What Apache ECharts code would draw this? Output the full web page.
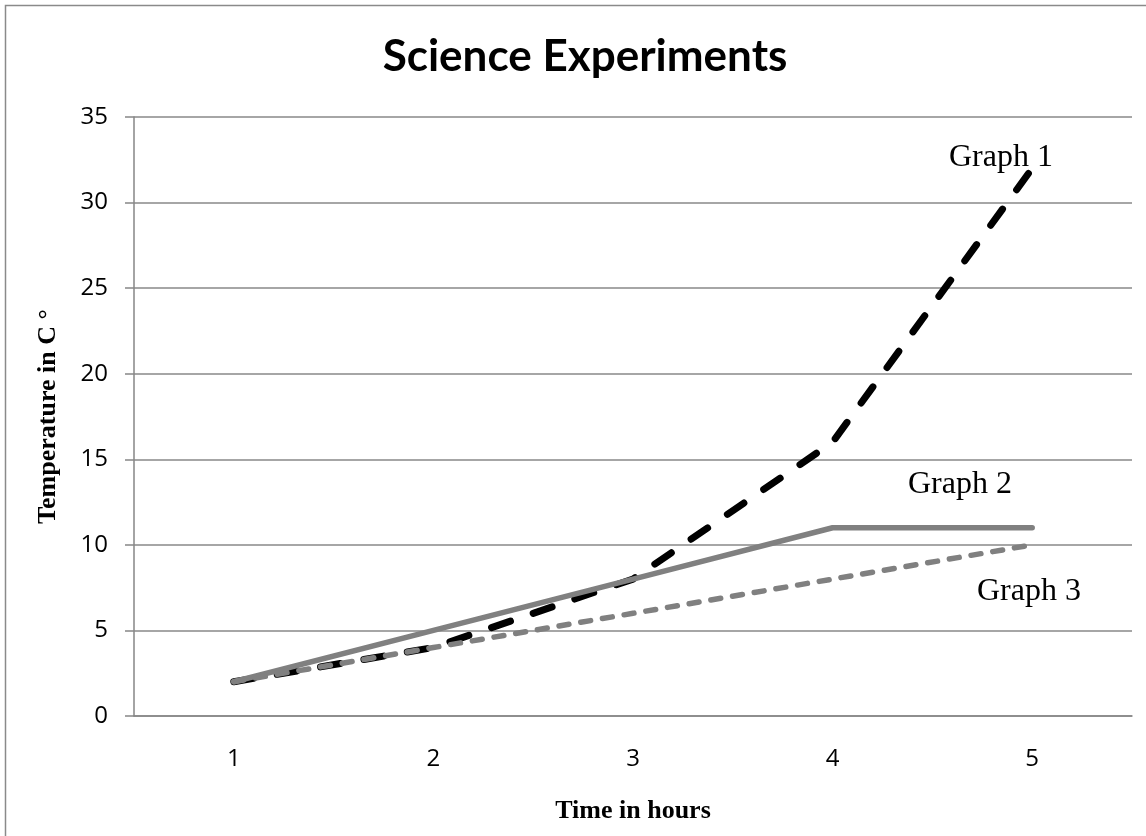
<!DOCTYPE html>
<html>
<head>
<meta charset="utf-8">
<script src="https://cdn.jsdelivr.net/npm/echarts@6/dist/echarts.min.js"></script>
<style>
  html, body { margin: 0; padding: 0; background: #fff; }
  #chart { width: 1146px; height: 836px; }
</style>
</head>
<body>
<div id="chart"></div>
<script>
    // values
    const hours = ['1', '2', '3', '4', '5'];
    const graph1 = [2, 4, 8, 16, 32];
    const graph2 = [2, 5, 8, 11, 11];
    const graph3 = [2, 4, 6, 8, 10];
    const yTicks = { min: 0, max: 35, interval: 5 };

    const chart = echarts.init(document.getElementById('chart'), null, {
        renderer: 'canvas'
    });

    const grey = '#808080';
    const serif = '"Liberation Serif", "DejaVu Serif", serif';
    const sans = '"Open Sans", "Noto Sans", sans-serif';

    chart.setOption({
        animation: false,
        backgroundColor: '#fff',
        title: {
            text: 'Science Experiments',
            left: 580,
            top: 30,
            textAlign: 'center',
            textStyle: {
                fontFamily: 'Lato, "Open Sans", sans-serif',
                fontWeight: 'bold',
                fontSize: 44,
                color: '#000'
            }
        },
        grid: {
            left: 134,
            right: 14,
            top: 117,
            bottom: 120,
            containLabel: false
        },
        xAxis: {
            type: 'category',
            data: hours,
            boundaryGap: true,
            name: 'Time in hours',
            nameLocation: 'middle',
            nameGap: 82,
            nameTextStyle: {
                fontFamily: serif,
                fontWeight: 'bold',
                fontSize: 26,
                color: '#000'
            },
            axisLine: { lineStyle: { color: '#868686', width: 1.5 } },
            axisTick: { show: false },
            axisLabel: {
                margin: 31,
                fontFamily: sans,
                fontSize: 24,
                color: '#000'
            },
            splitLine: { show: false }
        },
        yAxis: {
            type: 'value',
            min: yTicks.min,
            max: yTicks.max,
            interval: yTicks.interval,
            name: 'Temperature in C °',
            nameLocation: 'middle',
            nameGap: 73,
            nameRotate: 90,
            nameTextStyle: {
                fontFamily: serif,
                fontWeight: 'bold',
                fontSize: 26,
                color: '#000'
            },
            axisLine: { show: true, lineStyle: { color: '#868686', width: 1.5 } },
            axisTick: { show: true, length: 9, lineStyle: { color: '#868686', width: 1.5 } },
            axisLabel: {
                margin: 26,
                fontFamily: sans,
                fontSize: 24,
                color: '#000'
            },
            splitLine: { show: true, lineStyle: { color: '#898989', width: 1.5 } }
        },
        series: [
            {
                name: 'Graph 1',
                type: 'line',
                data: graph1,
                showSymbol: false,
                lineStyle: { color: '#000', width: 7, type: [20, 24], cap: 'round' },
                z: 2
            },
            {
                name: 'Graph 3',
                type: 'line',
                data: graph3,
                showSymbol: false,
                lineStyle: { color: grey, width: 5.5, type: [10, 12], cap: 'round' },
                z: 3
            },
            {
                name: 'Graph 2',
                type: 'line',
                data: graph2,
                showSymbol: false,
                lineStyle: { color: grey, width: 5.5, cap: 'round', join: 'round' },
                z: 4
            }
        ],
        graphic: [
            {
                type: 'rect',
                shape: { x: 5.5, y: 5.5, width: 1300, height: 1000 },
                style: { fill: 'none', stroke: '#8a8a8a', lineWidth: 1.5 },
                silent: true
            },
            {
                type: 'text', left: 949, top: 142,
                style: { text: 'Graph 1', font: '32px ' + serif, fill: '#000' }
            },
            {
                type: 'text', left: 908, top: 469,
                style: { text: 'Graph 2', font: '32px ' + serif, fill: '#000' }
            },
            {
                type: 'text', left: 977, top: 576,
                style: { text: 'Graph 3', font: '32px ' + serif, fill: '#000' }
            }
        ]
    });
</script>
</body>
</html>
